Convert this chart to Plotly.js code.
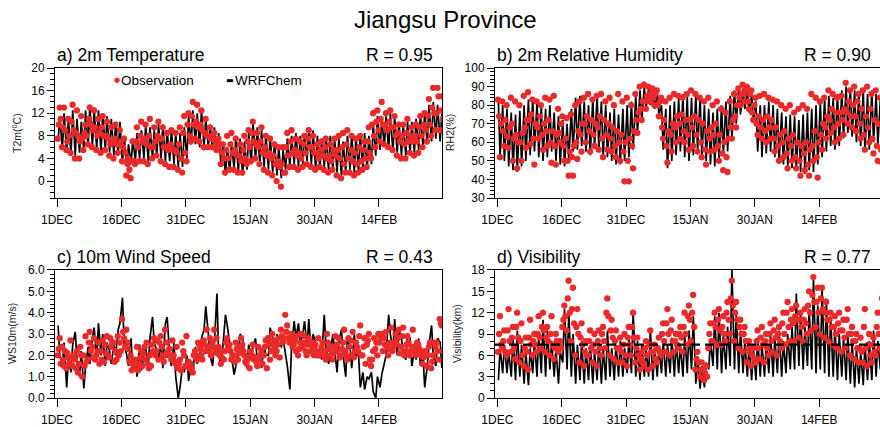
<!DOCTYPE html>
<html>
<head>
<meta charset="utf-8">
<script src="https://cdn.plot.ly/plotly-3.0.1.min.js"></script>
<style>html,body{margin:0;padding:0;background:#fff;}#chart{width:880px;height:427px;}</style>
</head>
<body>
<div id="chart"></div>
<script>
// ---------- data ----------
const chartTitle = "Jiangsu Province";
const tickDays = [0, 15, 30, 45, 60, 75];
const tickLabels = ["1DEC", "16DEC", "31DEC", "15JAN", "30JAN", "14FEB"];
const panelTitles = ["a) 2m Temperature", "b) 2m Relative Humidity", "c) 10m Wind Speed", "d) Visibility"];
const rValues = [0.95, 0.90, 0.43, 0.77];
const axisTitles = ["T2m(<sup>0</sup>C)", "RH2(%)", "WS10m(m/s)", "Visibility(km)"];
const seriesNames = ["Observation", "WRFChem"];

// WRFChem: two values per day
const t2mWrf = [
 7,11.5, 5.5,12, 5,11, 4.5,12.5, 4.5,11,
 5,10.5, 5.5,12.5, 6,13.5, 6,13, 5.5,12.5,
 5,12, 5.5,11.5, 5,11, 4.5,10.5, 4.5,10.5,
 3,8, 2.5,6.5, 3,7.5, 3.5,8.5, 4,9,
 4,10, 3.5,9.5, 4,9, 4.5,10, 4,10,
 3.5,9, 3.5,9, 3,8.5, 2.5,8.5, 2.5,9.5,
 4,11.5, 6.5,12.5, 6.5,12, 6,12.5, 6,11,
 6,10, 5.5,9.5, 5,8.5, 2.5,7, 1,6,
 1.5,7, 2,8, 1.5,7.5, 1,7, 2,8.5,
 3,10.5, 3.5,9.5, 3,9, 2.5,8.5, 2,8,
 1.5,7, 1,6, 0.5,5.5, 2,7.5, 2.5,8,
 3,8.5, 2.5,8, 3,8.5, 3.5,9.5, 3,9,
 2,8, 2,7.5, 2.5,8, 2,8, 2,7.5,
 1.5,7.5, 1,7, 1.5,8, 2,8.5, 1.5,8,
 1.5,8.5, 2,8.5, 2,8, 3,10, 4.5,11.5,
 5.5,11, 6,11.5, 5.5,12, 5,11.5, 5,10.5,
 4.5,10, 4.5,10.5, 5,10.5, 5,11, 5.5,12,
 6,12.5, 6.5,13.5, 7,14, 7.5,13.5, 7,12
];
// Observation: four values per day
const t2mObs = [
 7.5,10,13,11, 6,9.5,13,9, 5.5,7,11,8, 5,10.5,13.5,9, 4,8.5,12.5,8,
 4,7,11.5,7.5, 5.5,8.5,10,8, 6.5,11,13,10, 6,9,12.5,9.5, 5.5,8,11,8.5,
 5,9.5,11.5,8, 5.5,8,10.5,7.5, 4.5,6.5,9.5,7, 4,7.5,10,6.5, 5,6.5,9,7,
 3.5,6,7.5,5, 1,3,4,2, 0.5,3.5,7,3.5, 3,7,9.5,6, 3.5,8,10.5,7,
 3.5,7.5,10,6.5, 3,8,11,6, 4,6,9.5,7, 4.5,8,10.5,7.5, 3.5,7.5,9.5,6,
 3,6,8.5,5.5, 2.5,6.5,9,5.5, 2.5,5.5,8.5,5, 2,6.5,9.5,4, 1.5,8.5,11.5,5,
 3.5,10,12,8, 7,11.5,14,10, 7.5,10.5,13.5,9.5, 7,10,12.5,9, 6,8.5,11,8,
 6,8,9.5,7.5, 6,7.5,8.5,7, 5.5,6,7.5,6.5, 3,5,6.5,4, 1.5,5.5,8,4,
 2,6.5,8.5,5, 2,5.5,7.5,4.5, 1.5,4.5,6.5,3.5, 1.5,5.5,8,4, 3,7,9,6,
 3.5,8.5,10.5,7, 4,6.5,8.5,6, 3,7,9.5,5, 2,6,8,4.5, 1.5,5,7.5,4,
 1,4.5,6.5,3, 0,3.5,6,2.5, -1,3,6,1.5, 1.5,6,8.5,4.5, 2.5,7,9,5,
 2.5,5.5,7.5,4.5, 2,5,7,4, 2.5,6.5,8,5, 3,7.5,9,6, 2.5,6,8,5,
 2,5,6.5,4, 2.5,5.5,7,4.5, 2,6,7.5,4, 1.5,4.5,6.5,3.5, 2,5.5,7.5,4.5,
 1,5.5,8,4, 0.5,6,8.5,3, 1.5,6.5,9,4, 1.5,5.5,8,3.5, 1,5,7.5,3,
 1.5,6,8,3.5, 2,5.5,7,4, 2.5,7,9.5,5, 4,10,12,8, 6,10.5,12.5,9,
 7,11,14,10, 6.5,10,12,9, 6,10.5,12.5,9.5, 5.5,9.5,11.5,8, 4.5,8.5,10,7,
 4,8,10,6.5, 4,8.5,11,7, 5,8,9.5,7, 4.5,8,10,7, 5,9.5,11.5,8,
 6,10,12,9, 7,11.5,14.5,10, 8,13,16.5,12, 9,12,16.5,15, 9,12.5,15,11
];
const rh2Wrf = [
 82,52, 80,50, 78,47, 76,45, 75,44,
 77,47, 80,50, 83,53, 84,55, 82,52,
 80,50, 78,52, 80,55, 76,50, 74,48,
 72,47, 70,50, 78,55, 84,56, 85,58,
 82,55, 80,53, 84,57, 85,56, 82,52,
 80,52, 76,50, 78,48, 75,48, 78,50,
 80,52, 82,56, 85,65, 88,72, 90,78,
 89,80, 88,78, 86,75, 80,56, 78,46,
 80,50, 82,53, 84,55, 86,52, 85,50,
 84,53, 86,55, 84,52, 80,50, 78,48,
 76,47, 78,50, 80,53, 82,55, 85,62,
 88,70, 90,75, 89,78, 88,76, 86,72,
 82,55, 80,52, 80,54, 82,55, 80,52,
 78,50, 76,48, 74,47, 75,46, 74,45,
 72,44, 75,43, 76,45, 78,44, 80,48,
 82,52, 84,55, 85,58, 84,56, 86,58,
 88,62, 90,65, 89,63, 88,60, 87,58,
 88,55, 86,56, 88,60, 86,58, 84,55
];
const rh2Obs = [
 83,74,52,70, 82,66,58,72, 80,63,57,68, 84,70,50,62, 82,64,46,60,
 80,60,50,65, 85,68,57,72, 87,72,59,75, 83,62,48,70, 82,68,62,74,
 80,64,56,70, 84,66,58,72, 83,60,49,66, 85,58,48,64, 78,65,60,70,
 74,58,50,62, 73,50,42,55, 75,52,42,58, 80,60,51,66, 82,64,55,70,
 84,70,60,74, 86,66,55,72, 83,64,58,70, 85,68,56,74, 86,62,52,72,
 82,64,56,70, 84,62,55,68, 80,58,52,66, 86,60,50,64, 82,55,39,60,
 84,50,39,62, 80,58,46,66, 86,72,65,76, 90,78,72,82, 91,82,78,85,
 90,85,82,87, 89,84,80,86, 88,80,74,82, 84,68,62,72, 82,58,49,66,
 84,64,55,70, 86,68,60,74, 85,70,62,75, 84,66,60,72, 86,64,56,72,
 88,68,58,74, 86,64,55,72, 84,60,52,70, 82,56,48,66, 84,62,55,68,
 80,64,56,70, 82,58,50,64, 78,54,45,60, 76,52,44,62, 82,68,62,72,
 86,74,68,80, 89,84,80,86, 91,86,82,88, 90,82,78,86, 88,76,72,80,
 84,70,64,74, 85,68,62,72, 86,66,60,74, 84,68,62,72, 83,62,55,68,
 82,58,50,64, 80,60,52,66, 78,54,46,62, 80,58,50,64, 76,52,46,60,
 78,50,42,58, 80,54,45,60, 78,48,42,56, 86,58,50,66, 84,52,41,60,
 82,64,56,70, 84,68,62,74, 88,72,65,78, 86,68,60,76, 84,70,62,76,
 85,72,64,78, 92,76,70,82, 88,74,68,80, 90,74,66,82, 86,70,62,78,
 88,64,56,74, 90,68,60,78, 86,62,54,72, 88,58,50,70, 84,56,49,66
];
const ws10Wrf = [
 3.4,2.0, 1.5,2.6, 0.5,1.8, 1.2,2.5, 3.1,1.8,
 1.0,2.2, 0.45,1.5, 2.4,1.6, 2.8,3.3, 1.8,3.5,
 2.0,3.0, 1.5,2.6, 2.2,1.6, 2.5,2.0, 3.2,3.5,
 4.7,2.5, 2.0,1.5, 2.8,1.2, 1.8,1.0, 2.5,1.3,
 2.0,2.4, 1.5,2.8, 3.8,2.6, 2.2,1.8, 2.6,1.4,
 3.5,3.8, 2.0,1.5, 2.6,1.0, 0.0,0.5, 1.5,1.2,
 2.0,0.8, 1.5,1.2, 2.4,1.6, 2.0,2.8, 3.2,4.3,
 3.0,2.0, 1.5,2.5, 4.9,2.0, 1.5,2.6, 3.9,3.4,
 2.5,2.0, 1.1,1.5, 2.2,3.0, 2.8,2.0, 1.4,2.5,
 1.8,2.4, 2.8,1.6, 2.2,1.4, 2.5,2.0, 2.0,3.3,
 2.8,2.2, 3.0,2.5, 2.4,2.8, 2.0,1.5, 0.4,2.5,
 3.6,2.8, 3.5,2.6, 3.0,3.6, 2.4,3.7, 2.0,3.0,
 2.6,2.0, 2.4,1.8, 3.9,2.4, 1.6,2.0, 3.0,2.2,
 1.2,2.6, 3.2,2.0, 1.0,2.8, 2.4,1.4, 3.0,2.0,
 2.0,0.5, 1.2,0.4, 1.0,0.9, 1.2,0.3, 0.0,1.0,
 0.5,1.1, 1.6,2.0, 3.9,3.0, 2.2,3.7, 2.0,3.2,
 2.8,2.0, 1.8,3.0, 2.8,1.5, 2.2,1.8, 2.8,1.5,
 2.0,0.5, 1.5,2.5, 3.4,2.0, 1.5,2.8, 2.6,1.4
];
const ws10Obs = [
 2.0,2.3,2.8,1.6, 2.4,1.8,1.5,2.2, 1.4,2.1,1.9,1.6, 2.7,1.9,1.5,2.0, 1.8,1.4,2.2,1.2,
 1.6,2.4,2.0,1.0, 2.0,1.5,2.9,1.7, 1.8,2.6,3.1,2.2, 2.4,1.9,2.8,1.8, 2.0,2.2,2.6,1.6,
 2.2,1.8,2.7,1.7, 2.5,2.1,2.9,2.0, 1.9,2.8,2.4,2.6, 2.6,1.7,2.2,1.8, 2.9,2.0,2.6,2.2,
 3.7,3.1,2.8,2.4, 3.2,2.6,2.3,1.7, 2.0,1.3,1.6,1.4, 1.8,1.6,2.4,1.3, 1.6,1.9,2.2,1.5,
 2.1,2.4,1.8,2.6, 1.6,1.4,2.0,1.5, 2.5,2.2,2.8,2.0, 2.2,2.7,1.8,2.6, 2.9,2.4,2.0,1.7,
 3.2,2.0,2.6,2.2, 2.3,2.0,1.8,2.7, 2.0,1.7,1.6,2.4, 1.4,1.6,1.8,1.3, 2.6,2.2,2.0,1.5,
 2.9,1.5,1.7,1.4, 1.6,1.4,1.2,2.0, 2.2,2.0,1.8,2.6, 2.5,2.3,2.0,1.8, 2.7,2.5,2.2,3.2,
 2.4,2.2,2.8,2.0, 2.6,2.4,3.2,2.2, 2.8,2.1,2.4,2.0, 1.6,1.9,2.2,1.8, 2.2,2.6,2.8,2.4,
 2.5,2.2,1.8,2.0, 2.0,1.7,2.6,2.3, 1.8,2.1,2.4,2.8, 2.5,2.2,2.0,1.7, 1.6,1.8,1.9,1.4,
 2.2,2.0,2.5,1.8, 1.9,1.7,1.5,2.4, 1.8,2.0,2.2,1.6, 2.0,2.4,2.7,1.4, 2.8,2.5,1.8,2.2,
 3.0,2.7,2.4,2.0, 2.2,2.5,2.8,1.9, 3.2,2.9,2.6,2.8, 3.9,3.1,3.4,2.8, 2.6,2.8,3.0,2.4,
 2.5,2.7,2.2,2.9, 2.0,2.3,2.6,3.0, 2.4,2.6,2.9,2.2, 2.0,2.5,2.8,2.6, 2.2,2.4,2.6,2.0,
 2.5,2.2,2.0,2.8, 2.0,2.2,2.4,2.6, 2.2,2.0,1.8,3.0, 2.6,2.3,2.0,2.4, 1.8,2.1,2.4,2.9,
 2.5,2.2,2.8,1.9, 2.0,2.3,2.6,3.2, 2.2,2.0,1.8,2.8, 2.4,2.7,2.0,3.1, 1.9,2.2,2.6,2.4,
 2.2,2.9,3.4,2.0, 2.0,2.4,2.8,1.6, 2.5,2.7,3.0,1.8, 1.5,1.8,2.2,2.8, 2.3,2.6,2.0,3.0,
 2.6,2.8,3.0,2.2, 2.8,2.5,3.1,2.4, 2.0,2.3,2.6,3.3, 2.2,2.4,2.6,3.0, 2.5,2.8,3.2,2.1,
 2.4,2.9,3.3,2.0, 2.2,2.5,2.9,2.6, 2.0,2.2,2.4,3.2, 2.2,2.4,2.0,2.6, 2.5,2.3,2.2,2.0,
 1.6,1.9,2.2,2.0, 1.5,2.0,2.4,2.6, 1.4,1.7,2.0,2.6, 2.4,2.6,2.2,1.8, 3.7,3.5,3.4,2.2
];
const visWrf = [
 2.5,7, 3.5,7.5, 3.5,6.5, 3,8.5, 2.5,9.5,
 3,7.5, 2,6.5, 1.8,7, 3.5,8, 3,9,
 3.5,11, 3,9.5, 4,8, 3,7, 2,6.5,
 5,12.5, 4,12, 3,9, 2,7.5, 2.5,8,
 2,7, 2.5,7.5, 2,6.5, 2.5,8, 2,7,
 2.5,9.5, 3,7, 2.5,7.5, 3,8, 3,7,
 3.5,8.5, 3.5,12.2, 3,8, 2.5,7.5, 3,7,
 3,9.7, 2.5,7, 3,7, 3.5,8, 3,7.5,
 3.5,8.5, 3,8, 3.5,7.5, 3,9, 3.5,9.5,
 4,11.5, 2,5.5, 1.3,4.5, 1.5,5, 4,8,
 4.5,11.5, 4,12, 3.5,9, 4,10, 4.5,18,
 4,12, 3.5,9.5, 3.5,8, 3,7.5, 2.5,7,
 2.5,8.5, 3,7.5, 3,8, 3.5,9, 3,8.5,
 3.5,9.5, 3,8, 3.5,9, 4,10, 4,14.7,
 4.5,12, 4,10, 4.5,12.5, 4,16.9, 3.5,13,
 4,15.5, 3.5,14, 3,11.5, 3,10, 2.5,9,
 3,8.5, 2.5,9, 2,8, 1.5,7, 2,6.5,
 1.8,7.5, 2.5,8, 2.5,9.5, 3,8, 4,7
];
const visObs = [
 6.5,9,11.5,7.5, 7,8,9.5,6.5, 6,9.5,12.5,8, 6.5,8.5,10,7, 5.5,10,12,8.5,
 5,8,10.5,6, 4.5,7,8.5,6.5, 4,8.5,11,7.5, 6,8,9,7.5, 6.5,9,11.5,8.5,
 7,10,12,9.5, 6.5,8.5,10,8, 6,9,11.5,7.5, 5.5,7,9,8, 6.5,7.5,8,7,
 10,11,13,11.5, 9.5,14,16.5,12, 8,12.5,15.5,10.5, 6,10,12.5,9, 5,8.5,10.5,7.5,
 4.5,6.5,8,6, 6,8,9.5,7, 5,7.5,9,6.5, 4.5,8,9.5,7, 6,9,10,8,
 7,12,14,11.5, 6,9.5,11,8.5, 5.5,8,9.5,7, 5,7,8.5,6.5, 5,7.5,9,6,
 4.5,8.5,10,7.5, 6,10,12,8.5, 5,7,8.5,6, 4,5.5,6.5,5, 4.5,7,8,6,
 4,7.5,9.5,6.5, 4.5,6.5,7.5,5.5, 5,7,8.5,6.5, 6,9,10.5,8, 6.5,10.5,12.5,9,
 6,9.5,11,8, 6.5,8,9,7.5, 7,9,10,8.5, 6.5,10,12,9, 7.5,11.5,13,11,
 8,12,14.5,10, 4,5.5,6.5,5, 3,4,5,4, 2.5,3.5,4.5,3, 7,9,10.5,8,
 8,10.5,12,10, 7.5,11,12.5,9.5, 7.5,10,11.5,9, 8,12,13.5,11, 9,14,16.5,13,
 8,12,13.5,11, 7,10,11,9, 6.5,9,10,8, 5,7,8,6.5, 4.5,6,7,5.5,
 5,8,9.5,7, 5.5,8.5,10,7.5, 5,8,9,7, 6,9,10.5,8, 6.5,9.5,11,8.5,
 6,9,10,8, 7,10.5,12,9, 7.5,12,13.5,10, 8,11,12.5,10.5, 8,11.5,13,11,
 8.5,11,12,10, 8,11,12.5,10.5, 9,13,15,12, 9.5,14.5,17,13.5, 10,13.5,15.5,12,
 9,14,15.5,12.5, 8.5,12,13.5,11, 8,11,12,10, 7.5,10,11.5,9, 7,10.5,12,9.5,
 6.5,9.5,11,8.5, 7,11,12.5,9, 6,9,10,8, 5.5,8,9,7, 5,7,8.5,6.5,
 5,10,12.5,7, 4.5,7.5,9,6, 5,7.5,8.5,6.5, 6,10,12,9, 7,12,14,10
];
const visRef = 7.5;

// ---------- helpers ----------
const lineOffsets = [0.25, 0.65];            // fraction of day of the two model samples
const obsOffsets  = [0.15, 0.4, 0.62, 0.87]; // fraction of day of the four observations
function times(arr, offs) {
  return arr.map((_, i) => Math.floor(i / offs.length) + offs[i % offs.length]);
}

const RED = '#ea2a2a';
const FONT = '"Liberation Sans", Arial, Helvetica, sans-serif';

const panels = [
  {wrf: t2mWrf, obs: t2mObs, yr: [-3, 20], dt: 4, mdt: 1, fmt: '', xd: [0.0625, 0.50227], yd: [0.5363, 0.8407], xr: [-0.47, 89.68]},
  {wrf: rh2Wrf, obs: rh2Obs, yr: [30, 100], dt: 10, mdt: 2, fmt: '', xd: [0.5625, 1.0], yd: [0.5363, 0.8407], xr: [-0.54, 89.15]},
  {wrf: ws10Wrf, obs: ws10Obs, yr: [0, 6], dt: 1, mdt: 0.2, fmt: '.1f', xd: [0.0625, 0.50227], yd: [0.0679, 0.3677], xr: [-0.47, 89.68]},
  {wrf: visWrf, obs: visObs, yr: [0, 18], dt: 3, mdt: 1, fmt: '', xd: [0.5625, 1.0], yd: [0.0679, 0.3677], xr: [-0.54, 89.15]}
];

const traces = [];
const layout = {
  width: 880, height: 427,
  margin: {l: 0, r: 0, t: 0, b: 0},
  paper_bgcolor: '#fff', plot_bgcolor: '#fff',
  showlegend: false,
  font: {family: FONT, color: '#000', size: 12},
  title: {text: chartTitle, x: 0.506, xanchor: 'center', xref: 'paper', y: 1 - 20 / 427, yanchor: 'middle', font: {size: 24, family: FONT, color: '#000'}},
  annotations: [],
  shapes: []
};

panels.forEach((p, k) => {
  const n = k + 1;
  const xa = 'x' + (n === 1 ? '' : n), ya = 'y' + (n === 1 ? '' : n);
  traces.push({
    x: times(p.wrf, lineOffsets), y: p.wrf, xaxis: xa, yaxis: ya,
    type: 'scatter', mode: 'lines', name: seriesNames[1],
    line: {color: '#000', width: 1.7}, hoverinfo: 'skip'
  });
  traces.push({
    x: times(p.obs, obsOffsets), y: p.obs, xaxis: xa, yaxis: ya,
    type: 'scatter', mode: 'markers', name: seriesNames[0],
    marker: {color: RED, size: 6.3, line: {width: 0}}, hoverinfo: 'skip'
  });
  const axX = {
    domain: p.xd, range: p.xr, anchor: ya,
    tickmode: 'array', tickvals: tickDays, ticktext: tickLabels,
    ticks: 'outside', ticklen: 8, tickwidth: 1, tickcolor: '#000',
    ticklabelstandoff: 3,
    showline: true, mirror: true, linecolor: '#000', linewidth: 1,
    showgrid: false, zeroline: false,
    tickfont: {size: 12, family: FONT, color: '#000'}
  };
  const axY = {
    domain: p.yd, range: p.yr, anchor: xa,
    dtick: p.dt, tick0: 0, tickformat: p.fmt,
    ticks: 'outside', ticklen: 7, tickwidth: 1, tickcolor: '#000',
    minor: {dtick: p.mdt, tick0: 0, ticks: 'outside', ticklen: 4, tickcolor: '#000', tickwidth: 1, showgrid: false},
    showline: true, mirror: true, linecolor: '#000', linewidth: 1,
    showgrid: false, zeroline: false,
    tickfont: {size: 12, family: FONT, color: '#000'}
  };
  layout['xaxis' + (n === 1 ? '' : n)] = axX;
  layout['yaxis' + (n === 1 ? '' : n)] = axY;

  // panel title (left) and correlation (right)
  layout.annotations.push({
    xref: 'paper', yref: 'paper', x: p.xd[0], y: p.yd[1], xanchor: 'left', yanchor: 'bottom', yshift: 1,
    text: panelTitles[k], showarrow: false, font: {size: 17.5, family: FONT, color: '#000'}
  });
  layout.annotations.push({
    xref: 'paper', yref: 'paper', x: p.xd[0] + (p.xd[1] - p.xd[0]) * (380 / 387), y: p.yd[1], xanchor: 'right', yanchor: 'bottom', yshift: 1,
    text: 'R = ' + rValues[k].toFixed(2), showarrow: false, font: {size: 17.5, family: FONT, color: '#000'}
  });
});

// axis titles (rotated)
const axisTitleX = [16 / 880, 450 / 880, 12 / 880, 457 / 880];
[0, 1, 2, 3].forEach(k => {
  const p = panels[k];
  layout.annotations.push({
    xref: 'paper', yref: 'paper', x: axisTitleX[k], y: (p.yd[0] + p.yd[1]) / 2,
    xanchor: 'center', yanchor: 'middle', textangle: -90,
    text: axisTitles[k], showarrow: false, font: {size: 10.5, family: FONT, color: '#222'}
  });
});

// legend inside panel a (symbol + label)
const legY = 1 - 80 / 427;
layout.annotations.push({
  xref: 'paper', yref: 'paper', x: 117 / 880, y: legY, xanchor: 'center', yanchor: 'middle',
  text: '●', showarrow: false, font: {size: 7, family: '"DejaVu Sans", sans-serif', color: RED}
});
layout.annotations.push({
  xref: 'paper', yref: 'paper', x: 119 / 880, y: legY, xanchor: 'left', yanchor: 'middle',
  text: seriesNames[0], showarrow: false, font: {size: 13.5, family: FONT, color: '#000'}
});
layout.annotations.push({
  xref: 'paper', yref: 'paper', x: 230 / 880, y: legY, xanchor: 'center', yanchor: 'middle',
  text: '▬', showarrow: false, font: {size: 8, family: '"DejaVu Sans", sans-serif', color: '#000'}
});
layout.annotations.push({
  xref: 'paper', yref: 'paper', x: 233 / 880, y: legY, xanchor: 'left', yanchor: 'middle',
  text: seriesNames[1], showarrow: false, font: {size: 13.5, family: FONT, color: '#000'}
});

// dashed reference line in visibility panel
layout.shapes.push({
  type: 'line', xref: 'x4 domain', yref: 'y4', x0: 0, x1: 1, y0: visRef, y1: visRef,
  line: {color: '#000', width: 2.2, dash: '9px,5px'}
});

Plotly.newPlot('chart', traces, layout, {displayModeBar: false, staticPlot: true});
</script>
</body>
</html>
